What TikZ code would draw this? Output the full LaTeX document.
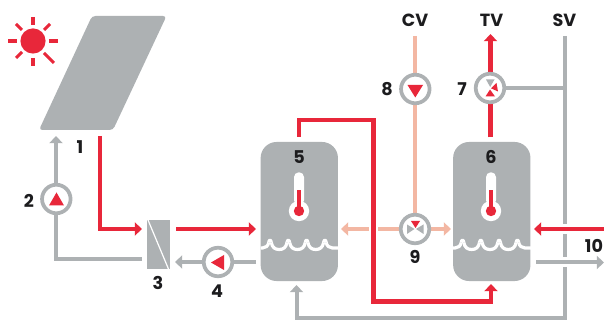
\documentclass[tikz,border=0pt]{standalone}
\usepackage{fontspec}
\setmainfont{Poppins}
\usetikzlibrary{arrows.meta}
\definecolor{pgray}{HTML}{ADB1B3}
\definecolor{pred}{HTML}{E8273A}
\definecolor{ppeach}{HTML}{F3B7A3}
\definecolor{pink}{HTML}{1C1C1E}
\tikzset{
  x=0.75pt,y=-0.75pt,
  tipA/.tip={Triangle[length=5.4pt,width=9.8pt]},
  redpipe/.style={draw=pred,line width=3.5pt},
  graypipe/.style={draw=pgray,line width=3pt},
  peachpipe/.style={draw=ppeach,line width=3pt},
  pumpc/.style={circle,draw=pgray,line width=2.8pt,fill=white,minimum size=21.4pt,inner sep=0pt},
  tank/.style={rectangle,fill=pgray,rounded corners=12pt,minimum width=58pt,minimum height=104.3pt,inner sep=0pt},
  lab/.style={font=\fontsize{13.2pt}{15pt}\selectfont\bfseries,text=pink,inner sep=0pt},
  wave/.style={draw=white,line width=2.4pt,line join=round},
  ray/.style={draw=pred,line width=2.3pt},
}
\newcommand{\thermo}[1]{%
  \fill[white,rounded corners=3.6pt] (#1-5,172.3) rectangle (#1+5,205);
  \fill[white] (#1,211) circle[radius=10.2];
  \fill[pred] (#1-2.4,190) rectangle (#1+2.4,211);
  \fill[pred] (#1,211) circle[radius=5.2];
}
\newcommand{\wavy}[1]{%
  \draw[wave] (#1,248) -- (#1+2,248) .. controls (#1+5,248) and (#1+7.7,246) .. (#1+8.2,242.5);
  \foreach \p in {9.5,27.8,46.1,64.4} {
    \draw[wave] (#1+\p-1.3,242.5) .. controls (#1+\p-0.9,239.4) and (#1+\p+0.9,239.4) .. (#1+\p+1.3,242.5);
  }
  \foreach \p in {9.5,27.8,46.1} {
    \draw[wave] (#1+\p+1.3,242.5) .. controls (#1+\p+2.2,247.5) and (#1+\p+5,249.5) .. (#1+\p+9.15,249.5)
      .. controls (#1+\p+13.3,249.5) and (#1+\p+16.1,247.5) .. (#1+\p+17,242.5);
  }
  \draw[wave] (#1+65.7,242.5) .. controls (#1+66.2,246) and (#1+69,248) .. (#1+72,248) -- (#1+78,248);
}
\begin{document}
\begin{tikzpicture}
\useasboundingbox (0,0) rectangle (604,320);
% collector and sun
\fill[pgray,rounded corners=2.5pt] (92,16) -- (166.5,16) -- (113,130) -- (39,130) -- cycle;
\fill[pred] (33,41) circle[radius=12.6];
\draw[ray] (33,17) -- (33,25);
\draw[ray] (33,58) -- (33,66);
\draw[ray] (8,41) -- (17,41);
\draw[ray] (49,41) -- (58,41);
\draw[ray] (16,24) -- (22,30);
\draw[ray] (50,24) -- (44,30);
\draw[ray] (16,58) -- (22,52);
\draw[ray] (54,63) -- (44,53);
% free ends
\coordinate (panelin) at (56,136);
\coordinate (panelout) at (100,136);
\coordinate (hxinr) at (142,229);
\coordinate (hxoutr) at (176,229);
\coordinate (t5r) at (256,229);
\coordinate (hxing) at (142,259.3);
\coordinate (hxoutg) at (175,262);
\coordinate (t5g) at (256,262);
\coordinate (t5top) at (299,137);
\coordinate (t6bot) at (491,284);
\coordinate (cv) at (415,36);
\coordinate (tvtip) at (490.5,34);
\coordinate (t6top) at (490.5,137.5);
\coordinate (sv) at (564.5,36);
\coordinate (t5bot) at (296.5,285);
% tanks
\node[tank] (t5) at (299.3,211.5) {};
\node[tank] (t6) at (491.8,211.5) {};
\wavy{260.5}
\wavy{453}
\thermo{299}
\thermo{491}
% heat exchanger
\node[rectangle,fill=pgray,minimum width=17pt,minimum height=36.8pt,inner sep=0pt] (hx) at (158.3,244.3) {};
\draw[white,line width=0.9pt] (148,220) -- (168.5,269);
% collector circuit
\draw[graypipe,-{tipA}] (hxing) -- (56,259.3) -- (panelin);
\draw[redpipe,-{tipA}] (panelout) -- (100,229) -- (hxinr);
\draw[redpipe,-{tipA}] (hxoutr) -- (t5r);
\draw[graypipe,-{tipA}] (t5g) -- (hxoutg);
% tank 5 to tank 6
\draw[redpipe,-{tipA}] (t5top) -- (299,120) -- (373.3,120) -- (373.3,301.5) -- (491,301.5) -- (t6bot);
% peach pipes
\draw[peachpipe] (cv) -- (415,229);
\draw[peachpipe,-{tipA}] (369,229) -- (341,229);
\draw[peachpipe,-{tipA}] (378,229) -- (451,229);
% supply pipes
\draw[redpipe,-{tipA}] (t6top) -- (tvtip);
\draw[graypipe] (490,88) -- (564.5,88);
\draw[graypipe] (sv) -- (564.5,224);
\draw[graypipe] (564.5,234) -- (564.5,257);
\draw[graypipe,-{tipA}] (564.5,267) -- (564.5,318.5) -- (296.5,318.5) -- (t5bot);
\draw[redpipe,-{tipA}] (604,229) -- (534,229);
\draw[graypipe,-{tipA}] (536,262.5) -- (604,262.5);
% pumps
\node[pumpc] (p2) at (56.3,199) {};
\node[pumpc] (p4) at (218,262) {};
\node[pumpc] (p8) at (415.3,89) {};
\node[pumpc] (p7) at (490,88) {};
\node[pumpc] (p9) at (415,229) {};
\fill[pred] (49,205.5) -- (64,205.5) -- (56.5,192.5) -- cycle;
\fill[pred] (211,262.5) -- (224,255) -- (224,270) -- cycle;
\fill[pred] (407.5,85) -- (423,85) -- (415.3,97.5) -- cycle;
\fill[pgray] (486,79.5) -- (494.5,79.5) -- (490.2,87) -- cycle;
\fill[pred] (491,88.3) -- (496.5,83) -- (498,91.5) -- cycle;
\fill[pred] (485.5,96.5) -- (495,96.5) -- (490,89.5) -- cycle;
\fill[pred] (411,221) -- (420,221) -- (415.5,228) -- cycle;
\fill[pgray] (414.5,229) -- (407,224.5) -- (407,234) -- cycle;
\fill[pgray] (416,229) -- (423.5,224.5) -- (423.5,234) -- cycle;
% labels
\node[lab] (n1) at (80,147) {1};
\node[lab] (n2) at (29,200.5) {2};
\node[lab] (n3) at (158,282.5) {3};
\node[lab] (n4) at (217,291.5) {4};
\node[lab] (n5) at (299,157) {5};
\node[lab] (n6) at (491,157) {6};
\node[lab] (n7) at (462,89) {7};
\node[lab] (n8) at (387,89) {8};
\node[lab] (n9) at (415,257) {9};
\node[lab] (n10) at (594,246) {10};
\node[lab] (cvl) at (415,20) {CV};
\node[lab] (tvl) at (491.5,20) {TV};
\node[lab] (svl) at (564.5,20) {SV};
\end{tikzpicture}
\end{document}
